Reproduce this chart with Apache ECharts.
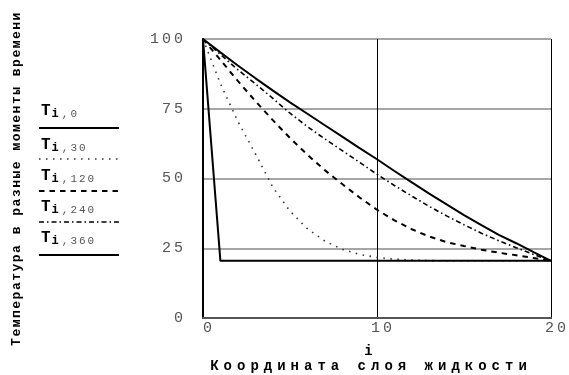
<!DOCTYPE html>
<html>
<head>
<meta charset="utf-8">
<script src="https://cdn.jsdelivr.net/npm/echarts@6/dist/echarts.min.js"></script>
<style>
html, body { margin: 0; padding: 0; background: #fff; }
#chart { width: 569px; height: 375px; }
</style>
</head>
<body>
<div id="chart"></div>
<script>
// координаты слоёв и температуры в разные моменты времени
const layers = [0, 1, 2, 3, 4, 5, 6, 7, 8, 9, 10, 11, 12, 13, 14, 15, 16, 17, 18, 19, 20]
const t0   = [100, 20.5, 20.5, 20.5, 20.5, 20.5, 20.5, 20.5, 20.5, 20.5, 20.5, 20.5, 20.5, 20.5, 20.5, 20.5, 20.5, 20.5, 20.5, 20.5, 20.5]
const t30  = [100, 84, 70.5, 59, 47, 38.3, 32, 27.6, 24.6, 22.8, 21.7, 21.1, 20.8, 20.6, 20.5, 20.5, 20.5, 20.5, 20.5, 20.5, 20.5]
const t120 = [100, 92.5, 85, 77.8, 71, 64.5, 58.5, 53, 48, 43.2, 38.8, 35, 31.8, 29.2, 27.2, 25.8, 24.5, 23.4, 22.5, 21.5, 20.5]
const t240 = [100, 94.5, 89, 84, 78.8, 73.4, 68.6, 64.2, 60, 55.8, 51.5, 47.5, 43.7, 40, 36.6, 33.4, 30.4, 27.7, 25.2, 22.8, 20.5]
const t360 = [100, 95.2, 90.5, 86, 81.6, 77.3, 73.2, 69.1, 65, 60.9, 56.9, 52.7, 48.6, 44.6, 40.7, 36.9, 33.3, 29.8, 26.8, 23.6, 20.5]
const yTicks = [0, 25, 50, 75, 100]
const xTicks = [0, 10, 20]
const names = ['0', '30', '120', '240', '360']

// разрядка букв как в Mathcad: семейство spN задаёт интервал в десятых px
const proto = CanvasRenderingContext2D.prototype
const fillOrig = proto.fillText
proto.fillText = function (s, x, y, w) {
    const m = /sp(\d+)/.exec(this.font)
    this.letterSpacing = m ? (m[1] / 10) + 'px' : '0px'
    return w === undefined ? fillOrig.call(this, s, x, y) : fillOrig.call(this, s, x, y, w)
}

const mono = '"Liberation Mono", monospace'
const styles = [
    { type: 'solid', width: 2 },
    { type: [1.5, 5.5], width: 1.6, color: '#333' },
    { type: [5.5, 5], width: 2 },
    { type: [5, 3, 1.5, 3], width: 1.6 },
    { type: 'solid', width: 2 }
]
const data = [t0, t30, t120, t240, t360]

const chart = echarts.init(document.getElementById('chart'), null, { renderer: 'canvas' })

const series = data.map((vals, k) => ({
    type: 'line',
    name: 'T' + names[k],
    data: layers.map((x, j) => [x, vals[j]]),
    showSymbol: false,
    symbol: 'none',
    lineStyle: Object.assign({ color: '#000', cap: 'butt' }, styles[k]),
    z: k === 0 || k === 4 ? 4 : 3,
    animation: false
}))

// легенда слева: подпись и образец линии под ней
const legendY = [113, 147, 178, 209, 240]
const lineY = [128, 159, 191, 222, 255]
const graphic = []
names.forEach((n, k) => {
    graphic.push({
        type: 'text', left: 41, top: legendY[k] - 10,
        style: {
            text: '{t|T}{i|i}{s|,' + n + '}',
            rich: {
                t: { fontFamily: mono, fontWeight: 'bold', fontSize: 16, fill: '#000' },
                i: { fontFamily: mono, fontWeight: 'bold', fontSize: 12, fill: '#000', padding: [6, 0, 0, 1] },
                s: { fontFamily: 'sp20, ' + mono, fontSize: 11, fill: '#555', padding: [6, 0, 0, 3] }
            }
        }
    })
    const ls = styles[k]
    graphic.push({
        type: 'line',
        shape: { x1: 39, y1: lineY[k], x2: 119, y2: lineY[k] },
        style: { stroke: ls.color || '#000', lineWidth: ls.width, lineDash: ls.type === 'solid' ? null : ls.type }
    })
})

const option = {
    backgroundColor: '#fff',
    animation: false,
    grid: { left: 203, right: 18, top: 39, bottom: 57, containLabel: false, outerBoundsMode: 'none' },
    xAxis: [{
        type: 'value', min: xTicks[0], max: xTicks[xTicks.length - 1], interval: 10,
        axisLine: { show: true, onZero: false, lineStyle: { color: '#000', width: 2 } },
        axisTick: { show: false },
        splitLine: { show: true, lineStyle: { color: '#000', width: 1 } },
        axisLabel: { color: '#555', fontSize: 15, fontFamily: 'sp30, ' + mono, margin: 3, padding: [0, 0, 0, 12] },
        name: 'i\nКоордината слоя жидкости',
        nameLocation: 'middle', nameGap: 26,
        nameTextStyle: { color: '#000', fontSize: 14, fontWeight: 'bold', fontFamily: 'sp50, ' + mono, lineHeight: 15, padding: [0, 12, 0, 0] }
    }, {
        type: 'value', position: 'top', min: 0, max: 20,
        axisLine: { show: true, lineStyle: { color: '#555', width: 2 } },
        axisTick: { show: false }, axisLabel: { show: false }, splitLine: { show: false }
    }],
    yAxis: [{
        type: 'value', min: yTicks[0], max: yTicks[yTicks.length - 1], interval: 25,
        axisLine: { show: true, onZero: false, lineStyle: { color: '#000', width: 2 } },
        axisTick: { show: false },
        splitLine: { show: true, lineStyle: { color: '#888', width: 1.5 } },
        axisLabel: { color: '#555', fontSize: 15, fontFamily: 'sp30, ' + mono, margin: 17 },
        name: 'Температура в разные моменты времени',
        nameLocation: 'middle', nameGap: 180, nameRotate: 90,
        nameTextStyle: { color: '#000', fontSize: 13, fontWeight: 'bold', fontFamily: 'sp15, ' + mono }
    }, {
        type: 'value', position: 'right', min: 0, max: 100,
        axisLine: { show: true, lineStyle: { color: '#000', width: 1.5 } },
        axisTick: { show: false }, axisLabel: { show: false }, splitLine: { show: false }
    }],
    graphic: graphic,
    series: series
}
chart.setOption(option)
</script>
</body>
</html>
